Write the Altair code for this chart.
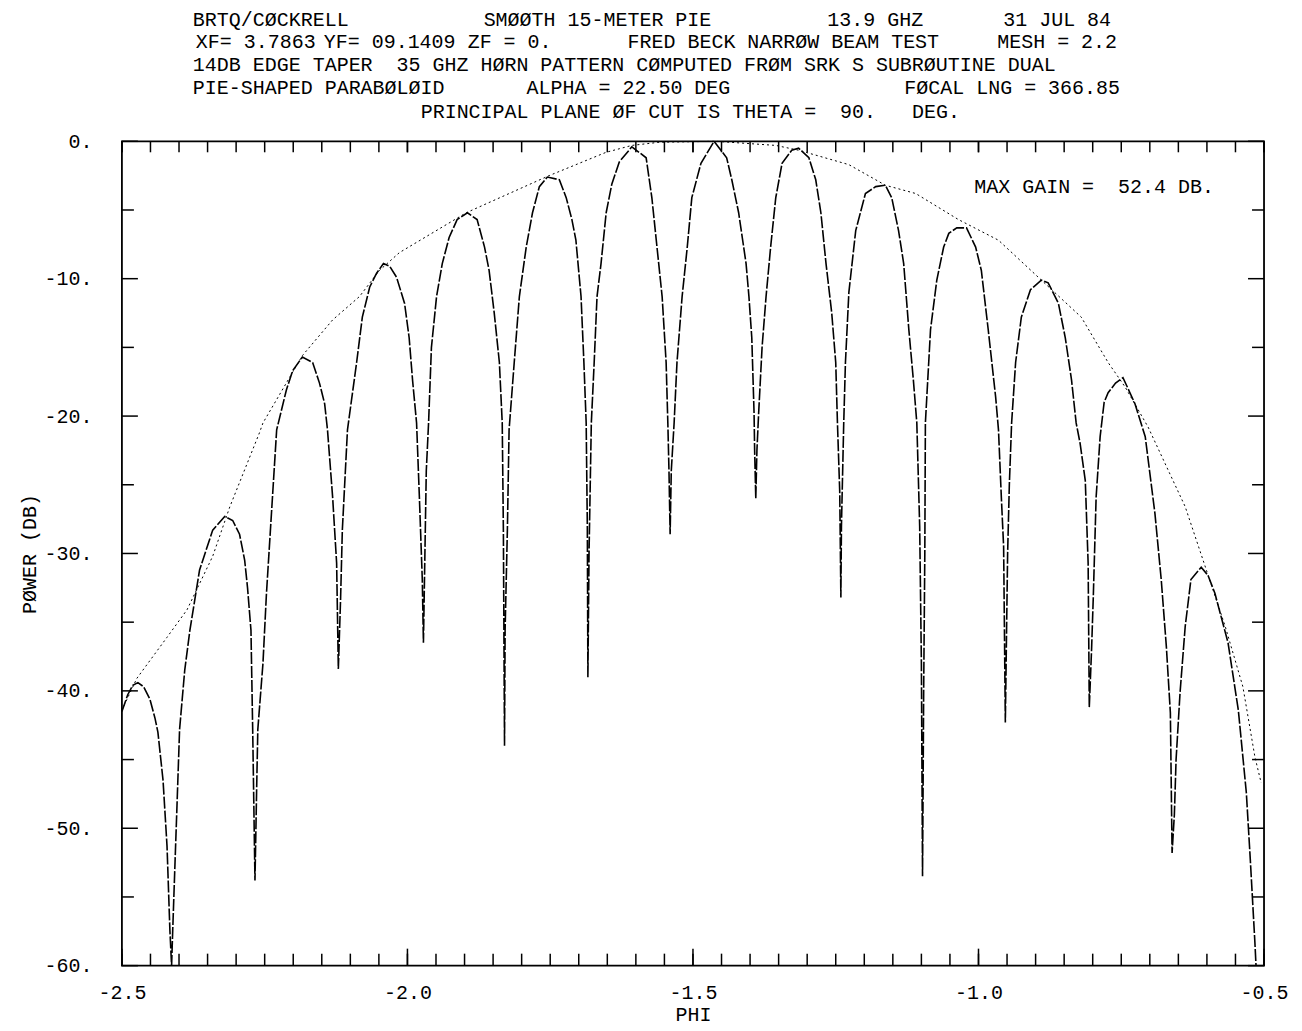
import altair as alt
import pandas as pd

# ---- data ----
pattern_phi = [
    -2.500, -2.490, -2.481, -2.472, -2.462, -2.451, -2.442, -2.437, -2.428, -2.421, -2.416, -2.413,
    -2.411, -2.407, -2.404, -2.399, -2.390, -2.381, -2.364, -2.341, -2.320, -2.306, -2.294, -2.285, -2.280, -2.274, -2.271, -2.267,
    -2.264, -2.262, -2.253, -2.247, -2.238, -2.229, -2.212, -2.201, -2.184, -2.166, -2.154, -2.145, -2.140, -2.131, -2.124, -2.121,
    -2.117, -2.114, -2.105, -2.089, -2.079, -2.066, -2.054, -2.042, -2.031, -2.019, -2.005, -1.997, -1.991, -1.984, -1.979, -1.974, -1.972,
    -1.969, -1.967, -1.963, -1.958, -1.949, -1.939, -1.927, -1.913, -1.895, -1.878, -1.865, -1.857, -1.848, -1.839, -1.834, -1.832, -1.830,
    -1.829, -1.825, -1.822, -1.813, -1.804, -1.792, -1.781, -1.769, -1.755, -1.734, -1.722, -1.712, -1.705, -1.696, -1.691, -1.687, -1.685, -1.684,
    -1.682, -1.678, -1.673, -1.668, -1.661, -1.652, -1.642, -1.629, -1.607, -1.582, -1.572, -1.563, -1.554, -1.547, -1.544, -1.542, -1.540,
    -1.538, -1.533, -1.528, -1.519, -1.510, -1.502, -1.486, -1.463, -1.441, -1.432, -1.420, -1.407, -1.402, -1.397, -1.393, -1.392, -1.390,
    -1.388, -1.385, -1.379, -1.372, -1.364, -1.355, -1.344, -1.327, -1.315, -1.297, -1.285, -1.276, -1.267, -1.257, -1.250, -1.247, -1.243, -1.241,
    -1.240, -1.236, -1.233, -1.227, -1.215, -1.198, -1.180, -1.163, -1.152, -1.140, -1.131, -1.122, -1.114, -1.108, -1.103, -1.100, -1.098,
    -1.096, -1.094, -1.093, -1.084, -1.073, -1.061, -1.052, -1.038, -1.021, -1.005, -0.995, -0.983, -0.970, -0.965, -0.960, -0.956, -0.953,
    -0.949, -0.946, -0.942, -0.935, -0.925, -0.909, -0.890, -0.878, -0.860, -0.848, -0.837, -0.829, -0.822, -0.813, -0.808, -0.806,
    -0.802, -0.799, -0.794, -0.787, -0.780, -0.773, -0.760, -0.747, -0.726, -0.708, -0.691, -0.680, -0.671, -0.664, -0.661,
    -0.657, -0.654, -0.647, -0.638, -0.628, -0.610, -0.598, -0.586, -0.563, -0.545, -0.531, -0.524, -0.516, -0.514,
]
pattern_db = [
    -41.5, -40.3, -39.6, -39.4, -39.7, -40.6, -42.0, -43.0, -46.5, -51.3, -57.4, -60.0,
    -57.4, -52.5, -48.9, -42.8, -38.5, -35.6, -31.2, -28.3, -27.3, -27.6, -28.6, -30.5, -32.5, -35.6, -42.8, -53.8,
    -47.0, -42.8, -38.0, -33.0, -27.0, -21.0, -18.1, -16.7, -15.7, -16.1, -17.6, -19.1, -21.0, -25.9, -30.7, -38.4,
    -33.2, -28.3, -21.0, -16.1, -12.8, -10.6, -9.6, -8.9, -9.1, -9.9, -11.8, -14.3, -17.4, -20.5, -26.0, -31.9, -36.5,
    -29.0, -24.0, -20.5, -15.0, -11.3, -8.9, -7.0, -5.7, -5.2, -5.7, -7.7, -9.4, -12.5, -16.1, -20.5, -28.3, -44.0,
    -35.6, -28.3, -21.0, -16.1, -11.3, -7.7, -5.2, -3.3, -2.6, -2.8, -4.1, -5.7, -7.2, -11.3, -16.1, -20.5, -28.0, -39.0,
    -30.0, -20.5, -16.1, -11.3, -8.9, -5.2, -3.1, -1.5, -0.4, -1.2, -4.1, -7.7, -11.3, -16.1, -20.5, -24.0, -28.6,
    -24.0, -20.5, -16.1, -11.3, -7.7, -4.1, -1.6, 0.0, -1.2, -2.8, -5.2, -8.9, -11.3, -14.3, -19.8, -22.5, -26.0,
    -22.5, -19.8, -15.0, -11.3, -7.7, -4.1, -1.6, -0.65, -0.5, -1.2, -2.8, -5.2, -8.9, -12.5, -16.1, -20.5, -25.5, -33.2,
    -28.0, -20.5, -16.1, -11.0, -6.5, -3.8, -3.3, -3.2, -4.1, -6.5, -8.9, -13.7, -17.4, -20.5, -28.0, -38.0, -53.5,
    -40.0, -30.0, -20.5, -13.7, -10.1, -7.7, -6.7, -6.3, -6.3, -7.7, -9.4, -13.7, -18.6, -21.0, -25.9, -29.5, -42.3,
    -30.0, -25.0, -20.5, -16.1, -12.8, -10.8, -10.1, -10.3, -11.8, -14.3, -17.4, -20.5, -22.0, -24.7, -30.7, -41.2,
    -37.0, -33.2, -25.9, -21.5, -19.0, -18.3, -17.6, -17.2, -19.1, -21.5, -27.1, -31.9, -36.8, -41.6, -51.8,
    -49.0, -45.0, -40.1, -35.3, -31.9, -31.0, -31.6, -32.9, -36.5, -41.4, -47.4, -52.3, -58.3, -60.0,
]
envelope_phi = [
    -2.500, -2.474, -2.421, -2.386, -2.341, -2.311, -2.259, -2.253, -2.184, -2.131, -2.084, -2.049, -2.014,
    -1.897, -1.752, -1.652, -1.607, -1.559, -1.460, -1.355, -1.315, -1.227, -1.163, -1.110, -1.035, -0.965,
    -0.890, -0.820, -0.773, -0.743, -0.703, -0.638, -0.601, -0.568, -0.537, -0.516, -0.505,
]
envelope_db = [
    -41.4, -39.1, -36.1, -34.1, -30.2, -26.6, -21.2, -20.5, -15.6, -13.0, -11.3, -9.4, -8.1,
    -5.2, -2.5, -0.8, -0.3, -0.07, 0.0, -0.3, -0.65, -1.7, -3.2, -3.8, -5.7, -7.2,
    -10.1, -12.8, -16.1, -17.9, -20.8, -26.6, -31.2, -35.3, -39.7, -44.8, -46.7,
]
x_label_values = [-2.5, -2.0, -1.5, -1.0, -0.5]
y_label_values = [0, -10, -20, -30, -40, -50, -60]
x_minor_ticks = [round(-2.5 + 0.05 * i, 2) for i in range(41)]
y_minor_ticks = [-5, -15, -25, -35, -45, -55]

NB = "\u00a0"  # keeps double spaces from collapsing
header = [
    ("BRTQ/CØCKRELL", 193, 20), ("SMØØTH 15-METER PIE", 484, 20), ("13.9 GHZ", 828, 20), ("31 JUL 84", 1004, 20),
    ("XF= 3.7863", 196, 42), ("YF= 09.1409", 324, 42), ("ZF = 0.", 468, 42),
    ("FRED BECK NARRØW BEAM TEST", 628, 42), ("MESH = 2.2", 998, 42),
    ("14DB EDGE TAPER" + NB + " 35 GHZ HØRN PATTERN CØMPUTED FRØM SRK S SUBRØUTINE DUAL", 193, 65),
    ("PIE-SHAPED PARABØLØID", 193, 88), ("ALPHA = 22.50 DEG", 527, 88), ("FØCAL LNG = 366.85", 905, 88),
    ("PRINCIPAL PLANE ØF CUT IS THETA =" + NB + " 90." + NB + NB + " DEG.", 421, 112),
    ("MAX GAIN =" + NB + " 52.4 DB.", 975, 187),
]

# ---- layout ----
W, H = 1143, 825
OX, OY = 122, 141
FONT = "Liberation Mono"

xscale = alt.Scale(domain=[-2.5, -0.5], nice=False, zero=False)
yscale = alt.Scale(domain=[-60, 0], nice=False, zero=False)
xaxis = alt.Axis(values=x_label_values, title="PHI", ticks=False, domain=False, grid=False,
                 labelExpr="datum.value == floor(datum.value) ? datum.value + '.0' : '' + datum.value",
                 labelPadding=17, titlePadding=2, labelFlush=False,
                 labelFont=FONT, labelFontSize=20, labelColor="black",
                 titleFont=FONT, titleFontSize=20, titleColor="black", titleFontWeight="normal")
yaxis = alt.Axis(values=y_label_values, title="PØWER (DB)", ticks=False, domain=False, grid=False,
                 labelExpr="datum.value + '.'", labelPadding=30, titlePadding=4,
                 labelFont=FONT, labelFontSize=20, labelColor="black",
                 titleFont=FONT, titleFontSize=20, titleColor="black", titleFontWeight="normal")

pat = pd.DataFrame({"phi": pattern_phi, "db": pattern_db, "i": range(len(pattern_phi))})
env = pd.DataFrame({"phi": envelope_phi, "db": envelope_db, "i": range(len(envelope_phi))})

pattern_line = alt.Chart(pat).mark_line(color="black", strokeWidth=1.6, strokeDash=[12, 2]).encode(
    x=alt.X("phi:Q", scale=xscale, axis=xaxis),
    y=alt.Y("db:Q", scale=yscale, axis=yaxis),
    order="i:Q",
)
envelope_line = alt.Chart(env).mark_line(color="black", strokeWidth=1.0, strokeDash=[2, 3]).encode(
    x=alt.X("phi:Q", scale=xscale, axis=xaxis),
    y=alt.Y("db:Q", scale=yscale, axis=yaxis),
    order="i:Q",
)

xmaj = pd.DataFrame({"v": x_label_values})
xmin = pd.DataFrame({"v": x_minor_ticks})
ymaj = pd.DataFrame({"v": y_label_values})
ymin = pd.DataFrame({"v": y_minor_ticks})

def xticks(df, y0, y1):
    return alt.Chart(df).mark_rule(color="black", strokeWidth=1.5).encode(
        x=alt.X("v:Q", scale=xscale, axis=xaxis), y=alt.value(y0), y2=alt.value(y1))

def yticks(df, x0, x1):
    return alt.Chart(df).mark_rule(color="black", strokeWidth=1.5).encode(
        y=alt.Y("v:Q", scale=yscale, axis=yaxis), x=alt.value(x0), x2=alt.value(x1))

tick_layers = [
    xticks(xmin, H, H - 12), xticks(xmaj, H, H - 17),
    xticks(xmin, 0, 11), xticks(xmaj, 0, 11),
    yticks(ymin, 0, 12), yticks(ymaj, 0, 16),
    yticks(ymin, W, W - 12), yticks(ymaj, W, W - 16),
]

text_layers = []
for s, px, py in header:
    text_layers.append(
        alt.Chart(pd.DataFrame({"t": [s]})).mark_text(
            font=FONT, fontSize=20, align="left", baseline="middle", color="black"
        ).encode(text="t:N", x=alt.value(px - OX), y=alt.value(py - OY))
    )

chart = alt.layer(pattern_line, envelope_line, *tick_layers, *text_layers).properties(
    width=W, height=H,
    padding={"left": OX - 8, "top": OY - 8, "right": 30, "bottom": 60},
    autosize=alt.AutoSizeParams(type="none"),
    background="white",
).configure_view(stroke="black", strokeWidth=1.8)

chart.save("out.html", embed_options={"renderer": "svg", "actions": False})
